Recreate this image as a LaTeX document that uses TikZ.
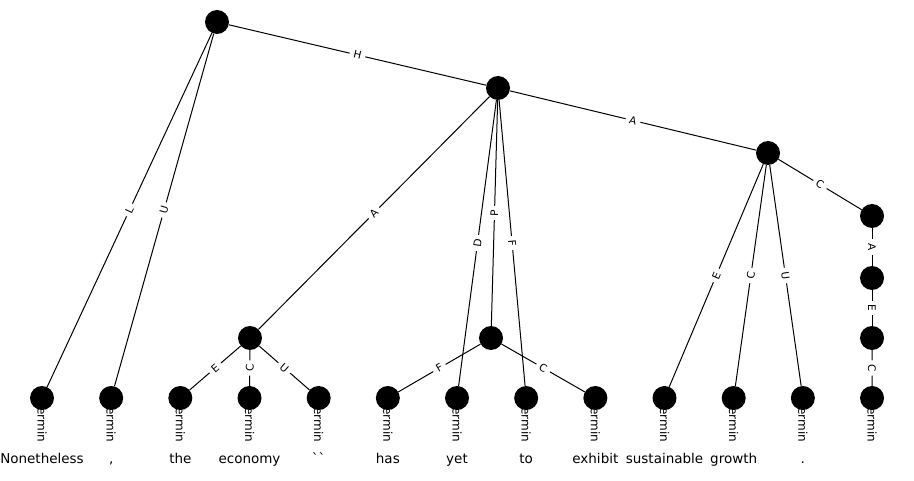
\documentclass[tikz,border=0pt]{standalone}
\usepackage{fontspec}
\setmainfont{DejaVu Sans}
\usetikzlibrary{positioning, backgrounds}

\begin{document}
\begin{tikzpicture}[x=1pt, y=-1pt,
	dot/.style={circle, fill=black, minimum size=24pt, inner sep=0pt},
	rel/.style={midway, sloped, fill=white, inner xsep=4pt, inner ysep=1pt, font=\fontsize{10.5}{10.5}\selectfont},
	arc/.style={line width=1pt}]
	\useasboundingbox (0,0) rectangle (914,481);
	\node[dot] (root) at (217,22) {};
	\node[dot] (n1) at (498,88) {};
	\node[dot] (n2) at (768,153) {};
	\node[dot] (n3) at (872,216) {};
	\node[dot] (n4) at (872,278) {};
	\node[dot] (n5) at (872,338) {};
	\node[dot] (np) at (250,338) {};
	\node[dot] (vp) at (491,338) {};
	\foreach \i in {0,...,12} {
		\node[dot] (t\i) at (42+69.17*\i,398) {};
		\begin{pgfonlayer}{background}
		\node[rotate=-90, anchor=west, inner sep=0pt, font=\fontsize{12}{12}\selectfont] (lab\i) at ([yshift=-4pt]t\i.center) {Termin};
		\end{pgfonlayer}
	}
	\foreach \w [count=\i from 0] in {Nonetheless, {,}, the, economy, \textasciigrave\textasciigrave, has, yet, to, exhibit, sustainable, growth, .}
		\node[anchor=base, inner sep=0pt, font=\fontsize{13.5}{15}\selectfont] (w\i) at (42+69.17*\i,463) {\w};
	% edges
	\draw[arc] (root) -- node[rel] {H} (n1);
	\draw[arc] (root) -- node[rel] {L} (t0);
	\draw[arc] (root) -- node[rel] {U} (t1);
	\draw[arc] (n1) -- node[rel] {A} (np);
	\draw[arc] (n1) -- node[rel] {D} (t6);
	\draw[arc] (n1) -- node[rel] {P} (vp);
	\draw[arc] (n1) -- node[rel] {F} (t7);
	\draw[arc] (n1) -- node[rel] {A} (n2);
	\draw[arc] (np) -- node[rel] {E} (t2);
	\draw[arc] (np) -- node[rel] {C} (t3);
	\draw[arc] (np) -- node[rel] {U} (t4);
	\draw[arc] (vp) -- node[rel] {F} (t5);
	\draw[arc] (vp) -- node[rel] {C} (t8);
	\draw[arc] (n2) -- node[rel] {E} (t9);
	\draw[arc] (n2) -- node[rel] {C} (t10);
	\draw[arc] (n2) -- node[rel] {U} (t11);
	\draw[arc] (n2) -- node[rel] {C} (n3);
	\draw[arc] (n3) -- node[rel] {A} (n4);
	\draw[arc] (n4) -- node[rel] {E} (n5);
	\draw[arc] (n5) -- node[rel] {C} (t12);
\end{tikzpicture}
\end{document}
